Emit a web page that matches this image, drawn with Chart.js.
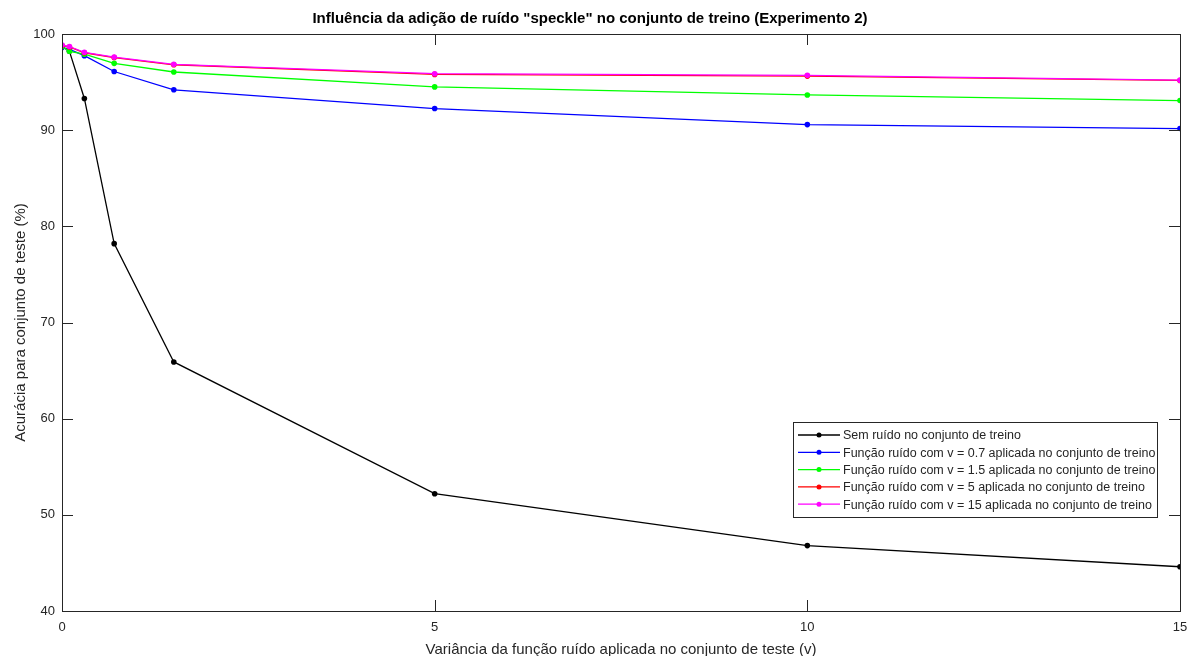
<!DOCTYPE html>
<html>
<head>
<meta charset="utf-8">
<script src="https://cdn.jsdelivr.net/npm/chart.js@4"></script>
<style>
  html, body { margin: 0; padding: 0; background: #fff; }
  #wrap { width: 1191px; height: 656px; }
</style>
</head>
<body>
<div id="wrap"><canvas id="lineChart" width="1191" height="656"></canvas></div>
<script>
// Variância do ruído aplicada no conjunto de teste
const VARIANCES = [0, 0.1, 0.3, 0.7, 1.5, 5, 10, 15];

// Acurácia (%) de cada rede
const SEM_RUIDO = [98.7, 98.2, 93.3, 78.2, 65.9, 52.2, 46.8, 44.6];
const RUIDO_07  = [98.6, 98.4, 97.75, 96.1, 94.2, 92.25, 90.58, 90.17];
const RUIDO_15  = [98.7, 98.2, 97.9, 96.95, 96.05, 94.5, 93.66, 93.08];
const RUIDO_5   = [98.8, 98.65, 98.05, 97.55, 96.8, 95.8, 95.62, 95.17];
const RUIDO_15V = [98.86, 98.7, 98.1, 97.6, 96.85, 95.87, 95.7, 95.2];

const Y_TICKS = [40, 50, 60, 70, 80, 90, 100];
const X_TICKS = [0, 5, 10, 15];

const LABELS = [
    'Sem ruído no conjunto de treino',
    'Função ruído com v = 0.7 aplicada no conjunto de treino',
    'Função ruído com v = 1.5 aplicada no conjunto de treino',
    'Função ruído com v = 5 aplicada no conjunto de treino',
    'Função ruído com v = 15 aplicada no conjunto de treino'
];
const COLORS = ['#000000', '#0000ff', '#00ff00', '#ff0000', '#ff00ff'];
const SERIES = [SEM_RUIDO, RUIDO_07, RUIDO_15, RUIDO_5, RUIDO_15V];

const FONT = "'Liberation Sans', Arial, Helvetica, sans-serif";
const AXIS_GREY = '#262626';

function points(values) {
    return VARIANCES.map(function (v, i) { return { x: v, y: values[i] }; });
}

// the last series is drawn on top, like in MATLAB
var datasets = SERIES.map(function (s, i) {
    return {
        label: LABELS[i],
        data: points(s),
        borderColor: COLORS[i],
        backgroundColor: COLORS[i],
        borderWidth: 1.3,
        pointRadius: 2.8,
        pointHoverRadius: 2.8,
        pointBorderWidth: 0,
        tension: 0,
        order: SERIES.length - i
    };
});

// Caixa dos eixos e marcas para dentro, no estilo MATLAB
const boxTicks = {
    id: 'boxTicks',
    afterDraw(chart) {
        const c = chart.ctx, a = chart.chartArea;
        const xs = chart.scales.x, ys = chart.scales.y;
        c.save();
        c.strokeStyle = AXIS_GREY;
        c.lineWidth = 1;
        c.strokeRect(Math.round(a.left) + 0.5, Math.round(a.top) + 0.5,
            Math.round(a.right - a.left), Math.round(a.bottom - a.top));
        c.beginPath();
        Y_TICKS.forEach(function (t) {
            const py = Math.round(ys.getPixelForValue(t)) + 0.5;
            c.moveTo(a.left, py); c.lineTo(a.left + 11, py);
            c.moveTo(a.right, py); c.lineTo(a.right - 11, py);
        });
        X_TICKS.forEach(function (t) {
            const px = Math.round(xs.getPixelForValue(t)) + 0.5;
            c.moveTo(px, a.bottom); c.lineTo(px, a.bottom - 11);
            c.moveTo(px, a.top); c.lineTo(px, a.top + 11);
        });
        c.stroke();
        c.restore();
    }
};

// Legenda dentro da área do gráfico (canto inferior direito)
const innerLegend = {
    id: 'innerLegend',
    afterDraw(chart) {
        const c = chart.ctx, a = chart.chartArea;
        const w = 364, rowH = 17.3, h = 95;
        const x0 = a.right - 23 - w, y0 = a.bottom - 94 - h;
        c.save();
        c.fillStyle = '#fff';
        c.fillRect(x0, y0, w, h);
        c.strokeStyle = AXIS_GREY;
        c.lineWidth = 1;
        c.strokeRect(Math.round(x0) + 0.5, Math.round(y0) + 0.5, w, h);
        c.font = '12.5px ' + FONT;
        c.textBaseline = 'middle';
        chart.data.datasets.forEach(function (ds, i) {
            const yy = y0 + 13 + i * rowH;
            c.strokeStyle = ds.borderColor;
            c.lineWidth = 1.3;
            c.beginPath();
            c.moveTo(x0 + 5, yy); c.lineTo(x0 + 47, yy);
            c.stroke();
            c.fillStyle = ds.borderColor;
            c.beginPath();
            c.arc(x0 + 26, yy, 2.5, 0, Math.PI * 2);
            c.fill();
            c.fillStyle = AXIS_GREY;
            c.fillText(ds.label, x0 + 50, yy + 1);
        });
        c.restore();
    }
};

var ctx = document.getElementById('lineChart').getContext('2d');
var myChart = new Chart(ctx, {
    type: 'line',
    data: { datasets: datasets },
    options: {
        responsive: false,
        animation: false,
        layout: { padding: { top: 0, right: 11, left: 0, bottom: 0 } },
        plugins: {
            legend: { display: false },
            tooltip: { enabled: false },
            title: {
                display: true,
                text: 'Influência da adição de ruído "speckle" no conjunto de treino (Experimento 2)',
                color: '#000',
                font: { family: FONT, size: 15, weight: 'bold' },
                padding: { top: 10, bottom: 6 }
            }
        },
        scales: {
            x: {
                type: 'linear',
                min: 0,
                max: 15,
                afterBuildTicks(scale) {
                    scale.ticks = X_TICKS.map(function (v) { return { value: v }; });
                },
                afterFit(scale) {
                    scale.height = 45;
                    scale.paddingLeft = 0;
                    scale.paddingRight = 0;
                },
                grid: { display: false, drawTicks: false, tickLength: 0 },
                border: { display: false },
                ticks: {
                    color: AXIS_GREY,
                    font: { family: FONT, size: 13 },
                    padding: 9,
                    maxRotation: 0
                },
                title: {
                    display: true,
                    text: 'Variância da função ruído aplicada no conjunto de teste (v)',
                    color: AXIS_GREY,
                    font: { family: FONT, size: 15 },
                    padding: { top: 0, bottom: -3 }
                }
            },
            y: {
                min: 40,
                max: 100,
                afterBuildTicks(scale) {
                    scale.ticks = Y_TICKS.map(function (v) { return { value: v }; });
                },
                afterFit(scale) {
                    scale.width = 62;
                    scale.paddingTop = 0;
                    scale.paddingBottom = 0;
                },
                grid: { display: false, drawTicks: false, tickLength: 0 },
                border: { display: false },
                ticks: {
                    color: AXIS_GREY,
                    font: { family: FONT, size: 13 },
                    padding: 7
                },
                title: {
                    display: true,
                    text: 'Acurácia para conjunto de teste (%)',
                    color: AXIS_GREY,
                    font: { family: FONT, size: 15 },
                    padding: { top: 12, bottom: 0 }
                }
            }
        }
    },
    plugins: [boxTicks, innerLegend]
});
</script>
</body>
</html>
